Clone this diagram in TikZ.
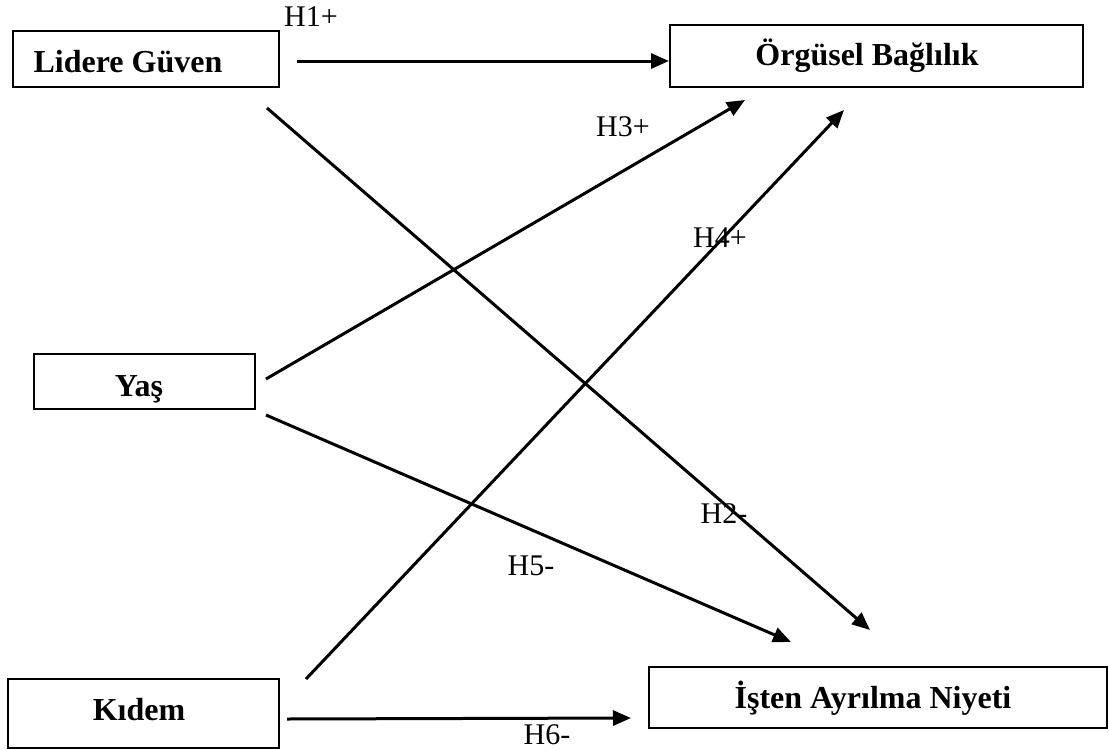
\documentclass[tikz,border=0pt]{standalone}
\usepackage{fontspec}
\setmainfont{Liberation Serif}
\usetikzlibrary{arrows.meta}
\tikzset{
  box/.style={draw, line width=2pt, inner sep=0pt, rectangle},
  btxt/.style={font=\fontsize{32}{38}\selectfont\bfseries, inner sep=0pt, anchor=base},
  lbl/.style={font=\fontsize{30}{36}\selectfont, inner sep=0pt, anchor=base},
  conn/.style={line width=3pt, -{Triangle[length=18pt,width=15pt]}}
}
\begin{document}
\begin{tikzpicture}[x=1pt,y=-1pt]
\useasboundingbox (0,0) rectangle (1109,750);
% boxes
\node[box, minimum width=266pt, minimum height=56pt] (lg) at (146,59) {};
\node[box, minimum width=413pt, minimum height=62pt] (ob) at (876.5,56) {};
\node[box, minimum width=221pt, minimum height=55pt] (yas) at (144.5,381.5) {};
\node[box, minimum width=271pt, minimum height=69pt] (kd) at (143.5,713.5) {};
\node[box, minimum width=458pt, minimum height=61pt] (ia) at (878,697.5) {};
% box texts
\node[btxt] (lgt) at (128,72) {Lidere Güven};
\node[btxt] (obt) at (867,65) {Örgüsel Bağlılık};
\node[btxt] (yast) at (139,396) {Yaş};
\node[btxt] (kdt) at (139,720) {Kıdem};
\node[btxt] (iat) at (873,708) {İşten Ayrılma Niyeti};
% connector end points
\coordinate (h1s) at (297,61);
\coordinate (h2s) at (267,108);
\coordinate (h2e) at (870,630);
\coordinate (h3s) at (266,379);
\coordinate (h3e) at (745,100);
\coordinate (h4s) at (306,679);
\coordinate (h4e) at (844,110);
\coordinate (h5s) at (266,415);
\coordinate (h5e) at (791,642);
\coordinate (h6s) at (287,719);
\coordinate (h6e) at (631,718);
% connectors
\draw[conn] (h1s) -- (h1s -| ob.west);
\draw[conn] (h2s) -- (h2e);
\draw[conn] (h3s) -- (h3e);
\draw[conn] (h4s) -- (h4e);
\draw[conn] (h5s) -- (h5e);
\draw[conn] (h6s) -- (h6e);
% labels
\node[lbl] (l1) at (311,26) {H1+};
\node[lbl] (l3) at (623,136) {H3+};
\node[lbl] (l4) at (720,247) {H4+};
\node[lbl] (l2) at (724,523) {H2-};
\node[lbl] (l5) at (531,575) {H5-};
\node[lbl] (l6) at (547,744) {H6-};
\end{tikzpicture}
\end{document}
